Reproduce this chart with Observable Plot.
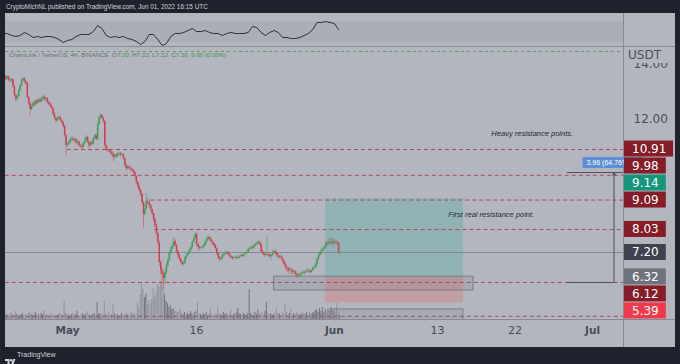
<!DOCTYPE html>
<html><head><meta charset="utf-8">
<script src="https://cdn.jsdelivr.net/npm/d3@7"></script>
<script src="https://cdn.jsdelivr.net/npm/@observablehq/plot@0.6"></script>
<style>
html,body{margin:0;padding:0;background:#1e222d;}
#wrap{position:relative;width:680px;height:364px;overflow:hidden;background:#1e222d;font-family:"Liberation Sans",Arial,sans-serif}
.abs{position:absolute}
</style></head><body>
<div id="wrap">
  <div class="abs" style="left:6px;top:2px;font-size:6.4px;line-height:10px;color:#d1d4dc;white-space:nowrap">CryptoMichNL published on TradingView.com, Jun 01, 2022 16:15 UTC</div>
  <div class="abs" style="left:5px;top:13px;width:670px;height:334px;background:#b3b6be"></div>
  <div class="abs" style="left:5px;top:21px;width:618px;height:21px;background:#abaeb6"></div>
  <div class="abs" style="left:5px;top:46px;width:670px;height:1px;background:#878a93"></div>
  <div class="abs" style="left:623px;top:13px;width:1px;height:334px;background:#878a93"></div>
  <div class="abs" style="left:5px;top:319px;width:670px;height:1px;background:#878a93"></div>
  <div id="vol" class="abs" style="left:0;top:0"></div>
  <div id="ind" class="abs" style="left:0;top:0"></div>
  <div id="main" class="abs" style="left:0;top:0"></div>
  <div class="abs" style="left:624px;top:48px;width:51px;height:15px;background:#b3b6be;font-family:'DejaVu Sans';font-size:12px;line-height:15px;color:#4c4f59;padding-left:4px;box-sizing:border-box">USDT</div>
  <div class="abs" style="left:9px;top:50px;font-size:6.2px;line-height:9px;color:#6e717b;white-space:nowrap">ChainLink / TetherUS, 4h, BINANCE&nbsp; O<span style="color:#3f9a50">7.20</span>&nbsp; H<span style="color:#3f9a50">7.22</span>&nbsp; L<span style="color:#3f9a50">7.12</span>&nbsp; C<span style="color:#3f9a50">7.20</span>&nbsp; <span style="color:#3f9a50">0.00 (0.00%)</span></div>
  <div class="abs" style="left:5px;top:352px;width:11px;height:7px">
    <svg width="11" height="7" viewBox="0 0 11 7"><path d="M0 0h4.5v7h-2v-5h-2.5z" fill="#d1d4dc"/><circle cx="6" cy="1.2" r="1.2" fill="#d1d4dc"/><path d="M8 0h2.5l-2.8 7h-2.3z" fill="#d1d4dc"/></svg>
  </div>
  <div class="abs" style="left:17px;top:350px;font-size:7px;line-height:10px;color:#d1d4dc">TradingView</div>
</div>
<script>
// ---- data ----
const lastCandle = "2022-06-01T16:00Z"; // 4h candles, last one
const firstOpen = 13.46;
const closes = [13.50,13.54,13.44,13.52,13.41,13.39,13.42,13.18,12.85,12.71,
12.82,13.03,13.21,13.39,13.45,13.36,13.28,12.78,12.56,12.35,
12.46,12.58,12.52,12.66,12.60,12.70,12.64,12.74,12.79,12.70,
12.74,12.60,12.55,12.46,12.38,12.17,12.02,11.95,12.03,12.06,
11.95,11.88,11.74,11.41,11.05,11.09,11.16,11.25,11.30,11.24,
11.26,11.14,11.18,11.05,11.02,10.98,11.12,11.23,11.34,11.18,
11.05,11.14,11.10,11.30,11.41,11.28,11.81,12.06,12.13,12.04,
11.92,11.05,10.91,10.87,10.86,10.80,10.73,10.62,10.70,10.66,
10.74,10.76,10.70,10.72,10.58,10.33,10.22,10.28,10.24,10.19,
10.15,10.08,9.94,9.72,9.58,9.43,9.29,9.00,8.57,8.78,
9.04,9.00,8.89,8.75,8.60,8.39,8.17,7.88,7.56,6.84,
6.55,6.41,6.26,6.48,6.73,6.91,7.16,7.31,7.42,7.60,
7.45,7.24,7.09,6.95,6.84,6.77,6.80,7.02,7.09,7.16,
7.27,7.38,7.56,7.70,7.85,7.49,7.38,7.34,7.36,7.38,
7.45,7.56,7.67,7.74,7.67,7.60,7.52,7.45,7.34,7.16,
7.02,6.95,6.98,7.09,7.13,7.16,7.20,7.13,7.06,7.02,
6.98,7.00,7.02,6.98,7.02,7.06,7.09,7.07,7.13,7.16,
7.20,7.31,7.34,7.38,7.36,7.45,7.49,7.52,7.56,7.49,
7.24,7.16,7.09,7.12,7.13,7.09,7.06,7.09,7.20,7.24,
7.16,7.09,7.02,7.05,6.98,6.88,6.77,6.66,6.62,6.55,
6.59,6.55,6.48,6.50,6.41,6.34,6.36,6.41,6.44,6.48,
6.46,6.52,6.55,6.52,6.48,6.55,6.62,6.66,6.77,6.95,
7.09,7.16,7.27,7.31,7.38,7.52,7.50,7.56,7.54,7.58,
7.52,7.57,7.56,7.52,7.20,7.20];
const highs = [13.58,13.60,13.58,13.57,13.55,13.46,13.48,13.45,13.22,12.90,
12.88,13.08,13.27,13.46,13.52,13.50,13.40,13.31,12.82,12.60,
12.52,12.64,12.66,12.72,12.70,12.76,12.75,12.80,12.88,12.84,
12.80,12.78,12.65,12.60,12.52,12.42,12.22,12.06,12.10,12.12,
12.10,11.99,11.92,11.78,11.45,11.18,11.24,11.34,11.38,11.36,
11.32,11.30,11.25,11.22,11.10,11.08,11.18,11.30,11.42,11.38,
11.22,11.20,11.22,11.36,11.48,11.46,11.88,12.12,12.21,12.18,
12.08,11.96,11.10,10.96,10.93,10.90,10.84,10.77,10.76,10.75,
10.80,10.82,10.80,10.78,10.76,10.62,10.38,10.34,10.33,10.28,
10.22,10.18,10.12,9.98,9.76,9.62,9.48,9.33,9.04,8.92,
9.32,9.14,9.06,8.94,8.80,8.64,8.44,8.22,7.94,7.62,
6.92,6.62,6.50,6.60,6.82,7.02,7.24,7.40,7.50,7.74,
7.66,7.50,7.30,7.14,7.00,6.90,6.88,7.08,7.16,7.22,
7.34,7.44,7.62,7.78,7.92,7.90,7.54,7.44,7.42,7.45,
7.52,7.62,7.74,7.82,7.78,7.72,7.64,7.56,7.50,7.38,
7.20,7.06,7.04,7.14,7.18,7.22,7.26,7.24,7.16,7.10,
7.06,7.05,7.07,7.06,7.08,7.10,7.14,7.13,7.18,7.22,
7.26,7.36,7.40,7.44,7.42,7.50,7.55,7.58,7.64,7.62,
7.52,7.30,7.20,7.18,7.81,7.20,7.14,7.16,7.26,7.32,
7.28,7.20,7.13,7.10,7.09,7.02,6.92,6.82,6.72,6.68,
6.66,6.64,6.60,6.56,6.54,6.45,6.44,6.48,6.50,6.55,
6.52,6.58,6.62,6.60,6.56,6.60,6.68,6.72,6.84,7.02,
7.16,7.22,7.34,7.38,7.45,7.60,7.62,7.66,7.70,7.72,
7.68,7.64,7.66,7.62,7.58,7.22];
const lows = [13.40,13.45,13.38,13.40,13.36,13.30,13.33,13.12,12.80,12.60,
12.66,12.78,12.98,13.16,13.33,13.30,13.22,12.72,12.48,12.13,
12.30,12.42,12.46,12.48,12.54,12.55,12.58,12.60,12.70,12.64,
12.62,12.54,12.48,12.40,12.32,12.10,11.96,11.86,11.90,11.98,
11.90,11.82,11.68,11.35,10.69,10.98,11.04,11.12,11.20,11.18,
11.16,11.08,11.08,10.98,10.95,10.90,10.94,11.08,11.18,11.12,
10.96,11.00,11.04,11.06,11.25,11.22,11.24,11.76,12.00,11.98,
11.85,10.98,10.84,10.80,10.78,10.72,10.66,10.48,10.56,10.60,
10.62,10.68,10.64,10.65,10.52,10.26,10.14,10.16,10.18,10.12,
10.08,10.00,9.88,9.64,9.50,9.36,9.20,8.90,8.06,8.50,
8.72,8.92,8.80,8.66,8.52,8.30,8.08,7.78,7.45,6.70,
6.38,6.10,5.88,6.05,6.40,6.66,6.85,7.10,7.26,7.36,
7.38,7.16,7.00,6.88,6.76,6.70,6.72,6.76,6.96,7.04,
7.12,7.22,7.34,7.52,7.66,7.42,7.30,7.26,7.28,7.30,
7.34,7.40,7.52,7.62,7.60,7.55,7.46,7.40,7.28,7.10,
6.94,6.88,6.90,6.94,7.04,7.08,7.12,7.08,7.00,6.96,
6.92,6.94,6.96,6.93,6.94,6.98,7.02,7.02,7.04,7.10,
7.12,7.16,7.27,7.30,7.30,7.32,7.41,7.45,7.48,7.44,
7.18,7.10,7.02,7.04,7.06,7.02,6.98,6.90,7.04,7.16,
7.10,7.02,6.96,6.98,6.92,6.80,6.70,6.55,6.48,6.42,
6.45,6.40,6.38,6.40,6.34,6.28,6.30,6.32,6.36,6.40,
6.40,6.42,6.48,6.46,6.42,6.44,6.50,6.58,6.62,6.72,
6.90,7.04,7.12,7.22,7.26,7.34,7.44,7.46,7.44,7.48,
7.40,7.46,7.48,7.44,7.16,7.12];
const volumes = [4,3,5,5,3,4,6,4,5,8, 5,4,3,5,6,4,5,3,6,7, 5,4,6,7,4,5,3,6,5,9,
4,5,3,5,6,4,5,3,4,5, 6,4,5,18,6,5,4,3,5,6, 4,5,8,4,3,5,6,4,5,8,
5,4,3,5,6,4,17,5,6,4, 5,18,6,5,7,4,5,15,6,4, 5,3,4,6,5,4,6,5,4,5,
7,5,6,4,16,12,25,37,30,22, 25,15,18,14,20,31,22,28,35,33, 38,36,32,25,18,16,12,14,10,11,
9,8,7,8,10,6,5,7,4,6, 5,8,6,4,7,9,17,6,5,4, 6,5,7,4,6,10,5,4,6,5,
12,6,5,4,7,5,6,4,5,10, 5,4,6,7,11,6,5,4,6,5, 4,6,30,6,5,4,7,5,10,6,
5,7,4,8,17,7,5,6,4,5, 6,11,5,6,4,7,5,15,7,5, 6,10,4,6,5,7,5,4,6,5,
6,5,7,4,8,5,6,7,9,10, 7,11,8,12,7,10,8,11,9,12, 8,9,7,16,7,4];
// upper pane line, one reading every 12h (every 3rd candle)
const indicator = [17,17,15,14,15,18,16,13,14,13, 14,14,13,11,8,10,11,14,16,16,
16,19,25,22,15,13,14,13,14,12, 11,9,6,9,16,16,11,5,7,14,
17,17,18,20,22,19,19,20,18,17, 17,15,17,18,17,17,17,18,24,23,
18,15,18,20,18,13,13,12,12,13, 15,17,21,28,28,29,28,27,21];
const priceTicks = [14, 12];
const timeTicks = ["2022-05-01","2022-05-16","2022-06-01","2022-06-13","2022-06-22","2022-07-01"];
const timeLabels = ["May","16","Jun","13","22","Jul"];
const isMonth = [true,false,true,false,false,true];
const levelPrices = [10.91, 9.98, 9.09, 8.03, 6.12, 4.90];
const levelStarts = ["2022-05-01T00:00Z","2022-04-01T00:00Z","2022-05-10T16:00Z","2022-05-11T04:00Z","2022-04-01T00:00Z","2022-04-01T00:00Z"];
const lastPrice = 7.20;
const alertPrice = 14.44;
const posStart = "2022-05-31T00:00Z", posEnd = "2022-06-16T00:00Z";
const posTarget = 9.14, posEntry = 6.32, posStop = 5.39;
const zoneStarts = ["2022-05-25T00:00Z","2022-05-31T16:00Z"];
const zoneEnds = ["2022-06-17T04:00Z","2022-06-16T00:00Z"];
const zoneTops = [6.33, 5.15];
const zoneBottoms = [5.83, 4.70];
const measureStart = "2022-06-28T02:00Z", measureEnd = "2022-07-03T12:00Z";
const measureLow = 6.12, measureHigh = 10.08;
const measureText = "3.96 (64.76%)";
const notes = ["Heavy resistance points.", "First real resistance point."];
const noteDates = ["2022-06-19T06:00Z","2022-06-14T06:00Z"];
const notePrices = [11.50, 8.57];
const badgePrices = [10.91, 9.98, 9.14, 9.09, 8.03, 7.20, 6.32, 6.12, 5.39];
const badgeKinds = ["level","level","target","level","level","last","entry","level","stop"];

// ---- build ----
const H4 = 4 * 3600e3;
const tLast = new Date(lastCandle).getTime();
const N = closes.length;
const candles = closes.map((c, i) => {
  const t = tLast - (N - 1 - i) * H4;
  const o = i === 0 ? firstOpen : closes[i - 1];
  return {date: new Date(t), t0: new Date(t - 1.45 * 3600e3), t1: new Date(t + 1.45 * 3600e3),
          open: o, close: c, high: highs[i], low: lows[i], vol: volumes[i], up: c >= o};
});
const indData = indicator.map((v, k) => ({date: candles[3 * k].date, v}));
const badgeColors = {level: "#861c27", target: "#13967a", last: "#3e4350", entry: "#6e727c", stop: "#f03a4b"};
const UP = "#3a9e55", DOWN = "#cf3d51";

const W = 680, Hh = 364;
const xScale = {type: "utc", domain: [new Date("2022-05-01T00:00Z"), new Date("2022-07-01T00:00Z")], range: [67, 592], axis: null};
const base = {width: W, height: Hh, marginLeft: 5, marginRight: 57, marginTop: 47, marginBottom: 45,
  style: {background: "transparent", maxWidth: "none", fontFamily: "DejaVu Sans", overflow: "visible"}};

// volume pane
document.getElementById("vol").append(Plot.plot({...base,
  x: xScale, y: {domain: [0, 40], range: [319, 279], axis: null},
  marks: [Plot.rect(candles, {x1: "t0", x2: "t1", y1: 0, y2: "vol", fill: d => d.up ? "#72757f" : "#91949e", clip: true})]
}));

// upper indicator pane
document.getElementById("ind").append(Plot.plot({...base, marginTop: 13, marginBottom: 318,
  x: xScale, y: {domain: [4, 36], range: [46, 14], axis: null},
  marks: [Plot.line(indData, {x: "date", y: "v", stroke: "#2b2e37", strokeWidth: 1, clip: true})]
}));

function badgeMark(index, scales, values, dims) {
  const x0 = dims.width - dims.marginRight + 1;
  const Hb = 17;
  const items = badgePrices.map((p, i) => ({p, kind: badgeKinds[i], y: scales.y(p)}));
  const anchor = items.find(d => d.kind === "last");
  let prev = anchor.y;
  for (const d of items.filter(d => d.p > anchor.p).sort((a, b) => a.p - b.p)) { d.y = Math.min(d.y, prev - Hb); prev = d.y; }
  prev = anchor.y;
  for (const d of items.filter(d => d.p < anchor.p).sort((a, b) => b.p - a.p)) { d.y = Math.max(d.y, prev + Hb); prev = d.y; }
  const g = d3.create("svg:g").attr("text-anchor", "start");
  for (const d of items) {
    const label = d.p.toFixed(2);
    const w = 13 + 7.2 * label.length;
    g.append("rect").attr("x", x0).attr("y", d.y - 8).attr("width", w).attr("height", 16).attr("fill", badgeColors[d.kind]);
    g.append("text").attr("x", x0 + 8).attr("y", d.y).attr("dy", "0.36em").attr("fill", "#ffffff")
      .attr("text-anchor", "start").attr("font-family", "DejaVu Sans").attr("font-size", 12).text(label);
  }
  return g.node();
}
function measureLabel(index, scales) {
  const cx = scales.x(new Date(measureEnd));
  const yTop = scales.y(measureHigh);
  const g = d3.create("svg:g");
  g.append("rect").attr("x", cx - 31).attr("y", yTop - 15).attr("width", 62).attr("height", 11).attr("rx", 1.5).attr("fill", "#5d8ed6");
  g.append("text").attr("x", cx - 27).attr("y", yTop - 9.5).attr("dy", "0.35em").attr("text-anchor", "start")
    .attr("fill", "#ffffff").attr("font-family", "Liberation Sans").attr("font-size", 7).text(measureText);
  return g.node();
}

const levels = levelPrices.map((p, i) => ({p, start: new Date(levelStarts[i]), end: new Date("2022-07-20T00:00Z")}));
const zones = zoneStarts.map((s, i) => ({x1: new Date(s), x2: new Date(zoneEnds[i]), y1: zoneTops[i], y2: zoneBottoms[i]}));
const ticks = timeTicks.map((t, i) => ({t: new Date(t + "T00:00Z"), label: timeLabels[i], month: isMonth[i]}));
const noteData = notes.map((n, i) => ({text: n, date: new Date(noteDates[i]), p: notePrices[i]}));
const pS = new Date(posStart), pE = new Date(posEnd);
const mS = new Date(measureStart), mE = new Date(measureEnd);

document.getElementById("main").append(Plot.plot({...base,
  x: xScale, y: {domain: [4, 14], range: [340.83, 63.23], axis: null},
  marks: [
    Plot.rect([{a: posTarget, b: posEntry}], {x1: () => pS, x2: () => pE, y1: "a", y2: "b", fill: "#26a69a", fillOpacity: 0.25, clip: true}),
    Plot.rect([{a: posEntry, b: posStop}], {x1: () => pS, x2: () => pE, y1: "a", y2: "b", fill: "#ef5350", fillOpacity: 0.25, clip: true}),
    Plot.rect(zones, {x1: "x1", x2: "x2", y1: "y1", y2: "y2", fill: "#6f7380", fillOpacity: 0.18, stroke: "#7b7e89", strokeWidth: 1, clip: true}),
    Plot.ruleY([alertPrice], {stroke: "#5f9e66", strokeDasharray: "3,3", strokeWidth: 1, clip: true}),
    Plot.ruleY([lastPrice], {stroke: "#878a93", strokeWidth: 1, clip: true}),
    Plot.ruleY(levels, {y: "p", x1: "start", x2: "end", stroke: "#ad4c5c", strokeDasharray: "4,3", strokeWidth: 1, clip: true}),
    Plot.ruleX(candles, {x: "date", y1: "low", y2: "high", stroke: d => d.up ? UP : DOWN, strokeOpacity: 0.6, strokeWidth: 0.9, clip: true}),
    Plot.ruleX(candles, {x: "date", y1: "open", y2: "close", stroke: d => d.up ? UP : DOWN, strokeWidth: 1.45, clip: true}),
    Plot.ruleY([{p: measureHigh}], {y: "p", x1: () => mS, x2: () => new Date("2022-07-20T00:00Z"), stroke: "#4d505a", strokeWidth: 1, clip: true}),
    Plot.ruleY([{p: measureLow}], {y: "p", x1: () => mS, x2: () => mE, stroke: "#4d505a", strokeWidth: 1, clip: true}),
    Plot.arrow([{a: measureLow, b: measureHigh}], {x1: () => mE, x2: () => mE, y1: "a", y2: "b", stroke: "#4d505a", strokeWidth: 1, headLength: 5}),
    measureLabel,
    Plot.text(noteData, {x: "date", y: "p", text: "text", textAnchor: "start", fontStyle: "italic", fontSize: 7.5, fontFamily: "Liberation Sans", fill: "#262a33"}),
    Plot.text(priceTicks, {y: d => d, text: d => d.toFixed(2), frameAnchor: "right", dx: 10, textAnchor: "start", fontSize: 12, fill: "#4c4f59"}),
    Plot.text(ticks.filter(d => d.month), {x: "t", text: "label", frameAnchor: "bottom", dy: 14, fontSize: 10.5, fontWeight: "bold", fill: "#4a4d57"}),
    Plot.text(ticks.filter(d => !d.month), {x: "t", text: "label", frameAnchor: "bottom", dy: 14, fontSize: 11, fill: "#4a4d57"}),
    badgeMark
  ]
}));
</script>
</body></html>
